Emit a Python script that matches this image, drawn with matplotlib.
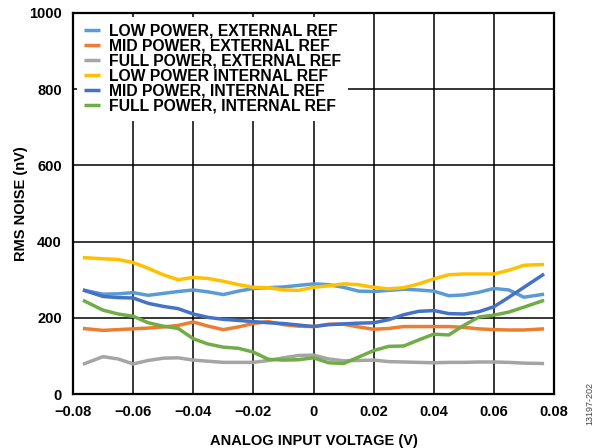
import matplotlib
matplotlib.use("Agg")
import matplotlib.pyplot as plt

plt.rcParams['font.family'] = ['Liberation Sans', 'DejaVu Sans']

x = [-0.0767, -0.07, -0.065, -0.06, -0.055, -0.05, -0.045, -0.04, -0.035, -0.03,
     -0.025, -0.02, -0.015, -0.01, -0.005, 0.0, 0.005, 0.01, 0.015, 0.02,
     0.025, 0.03, 0.035, 0.04, 0.045, 0.05, 0.055, 0.06, 0.065, 0.07, 0.0767]

low_ext = [273, 262, 263, 266, 259, 264, 269, 273, 268, 261,
           270, 277, 279, 281, 285, 289, 287, 280, 270, 269,
           272, 275, 273, 270, 258, 260, 267, 277, 273, 254, 262]
mid_ext = [172, 167, 169, 171, 173, 176, 180, 189, 178, 169,
           176, 185, 190, 182, 178, 177, 183, 183, 176, 170,
           172, 177, 177, 177, 177, 175, 171, 169, 168, 168, 171]
full_ext = [78, 98, 92, 79, 88, 94, 95, 89, 86, 83,
            83, 83, 88, 95, 101, 102, 92, 87, 88, 89,
            85, 84, 83, 82, 83, 83, 84, 84, 83, 81, 80]
low_int = [358, 355, 353, 345, 330, 313, 300, 306, 303, 296,
           287, 280, 279, 273, 272, 280, 284, 289, 287, 280,
           276, 279, 289, 302, 313, 315, 315, 315, 325, 338, 340]
mid_int = [273, 256, 253, 252, 238, 230, 224, 210, 201, 196,
           193, 190, 187, 185, 181, 177, 182, 184, 186, 187,
           195, 208, 217, 219, 211, 210, 216, 229, 254, 280, 315]
full_int = [246, 220, 210, 204, 187, 178, 172, 145, 131, 123,
            120, 110, 91, 89, 90, 95, 82, 80, 97, 114,
            125, 126, 142, 157, 155, 180, 202, 207, 215, 228, 246]

series = [
    ("LOW POWER, EXTERNAL REF", low_ext, "#5B9BD5"),
    ("MID POWER, EXTERNAL REF", mid_ext, "#ED7D31"),
    ("FULL POWER, EXTERNAL REF", full_ext, "#A5A5A5"),
    ("LOW POWER INTERNAL REF", low_int, "#FFC000"),
    ("MID POWER, INTERNAL REF", mid_int, "#4472C4"),
    ("FULL POWER, INTERNAL REF", full_int, "#70AD47"),
]

x_ticks = [-0.08, -0.06, -0.04, -0.02, 0, 0.02, 0.04, 0.06, 0.08]
x_tick_labels = ["\u22120.08", "\u22120.06", "\u22120.04", "\u22120.02", "0",
                 "0.02", "0.04", "0.06", "0.08"]
y_ticks = [0, 200, 400, 600, 800, 1000]

fig = plt.figure(figsize=(5.97, 4.48), dpi=100)
ax = fig.add_axes([73 / 597, 54 / 448, 481 / 597, 381 / 448])

for label, vals, color in series:
    ax.plot(x, vals, color=color, lw=2.5, label=label, solid_joinstyle='round',
            solid_capstyle='butt')

ax.set_xlim(-0.08, 0.08)
ax.set_ylim(0, 1000)
ax.set_xticks(x_ticks)
ax.set_xticklabels(x_tick_labels)
ax.set_yticks(y_ticks)
ax.set_axisbelow(True)
ax.grid(True, color='black', lw=1.1)
ax.tick_params(axis='x', length=0, pad=8, labelsize=10.5)
ax.tick_params(axis='y', length=0, pad=8, labelsize=10.5)
for t in ax.get_xticklabels() + ax.get_yticklabels():
    t.set_fontweight('bold')
for s in ax.spines.values():
    s.set_linewidth(1.6)
    s.set_color('black')

ax.set_xlabel("ANALOG INPUT VOLTAGE (V)", fontsize=10.5, fontweight='bold', labelpad=11)
ax.set_ylabel("RMS NOISE (nV)", fontsize=10.5, fontweight='bold', labelpad=1)

leg = ax.legend(loc='upper left', bbox_to_anchor=(0.0, 1.0),
                prop={'weight': 'bold', 'size': 11.3}, frameon=True, fancybox=False,
                framealpha=1, edgecolor='none', facecolor='white',
                handlelength=1.0, handletextpad=0.6, labelspacing=0.0,
                borderaxespad=0.25, borderpad=0.45)

fig.text(0.988, 0.1, "13197-202", rotation=90, fontsize=6.5, color='#444444',
         ha='center', va='center')

fig.savefig("out.png", dpi=100)
